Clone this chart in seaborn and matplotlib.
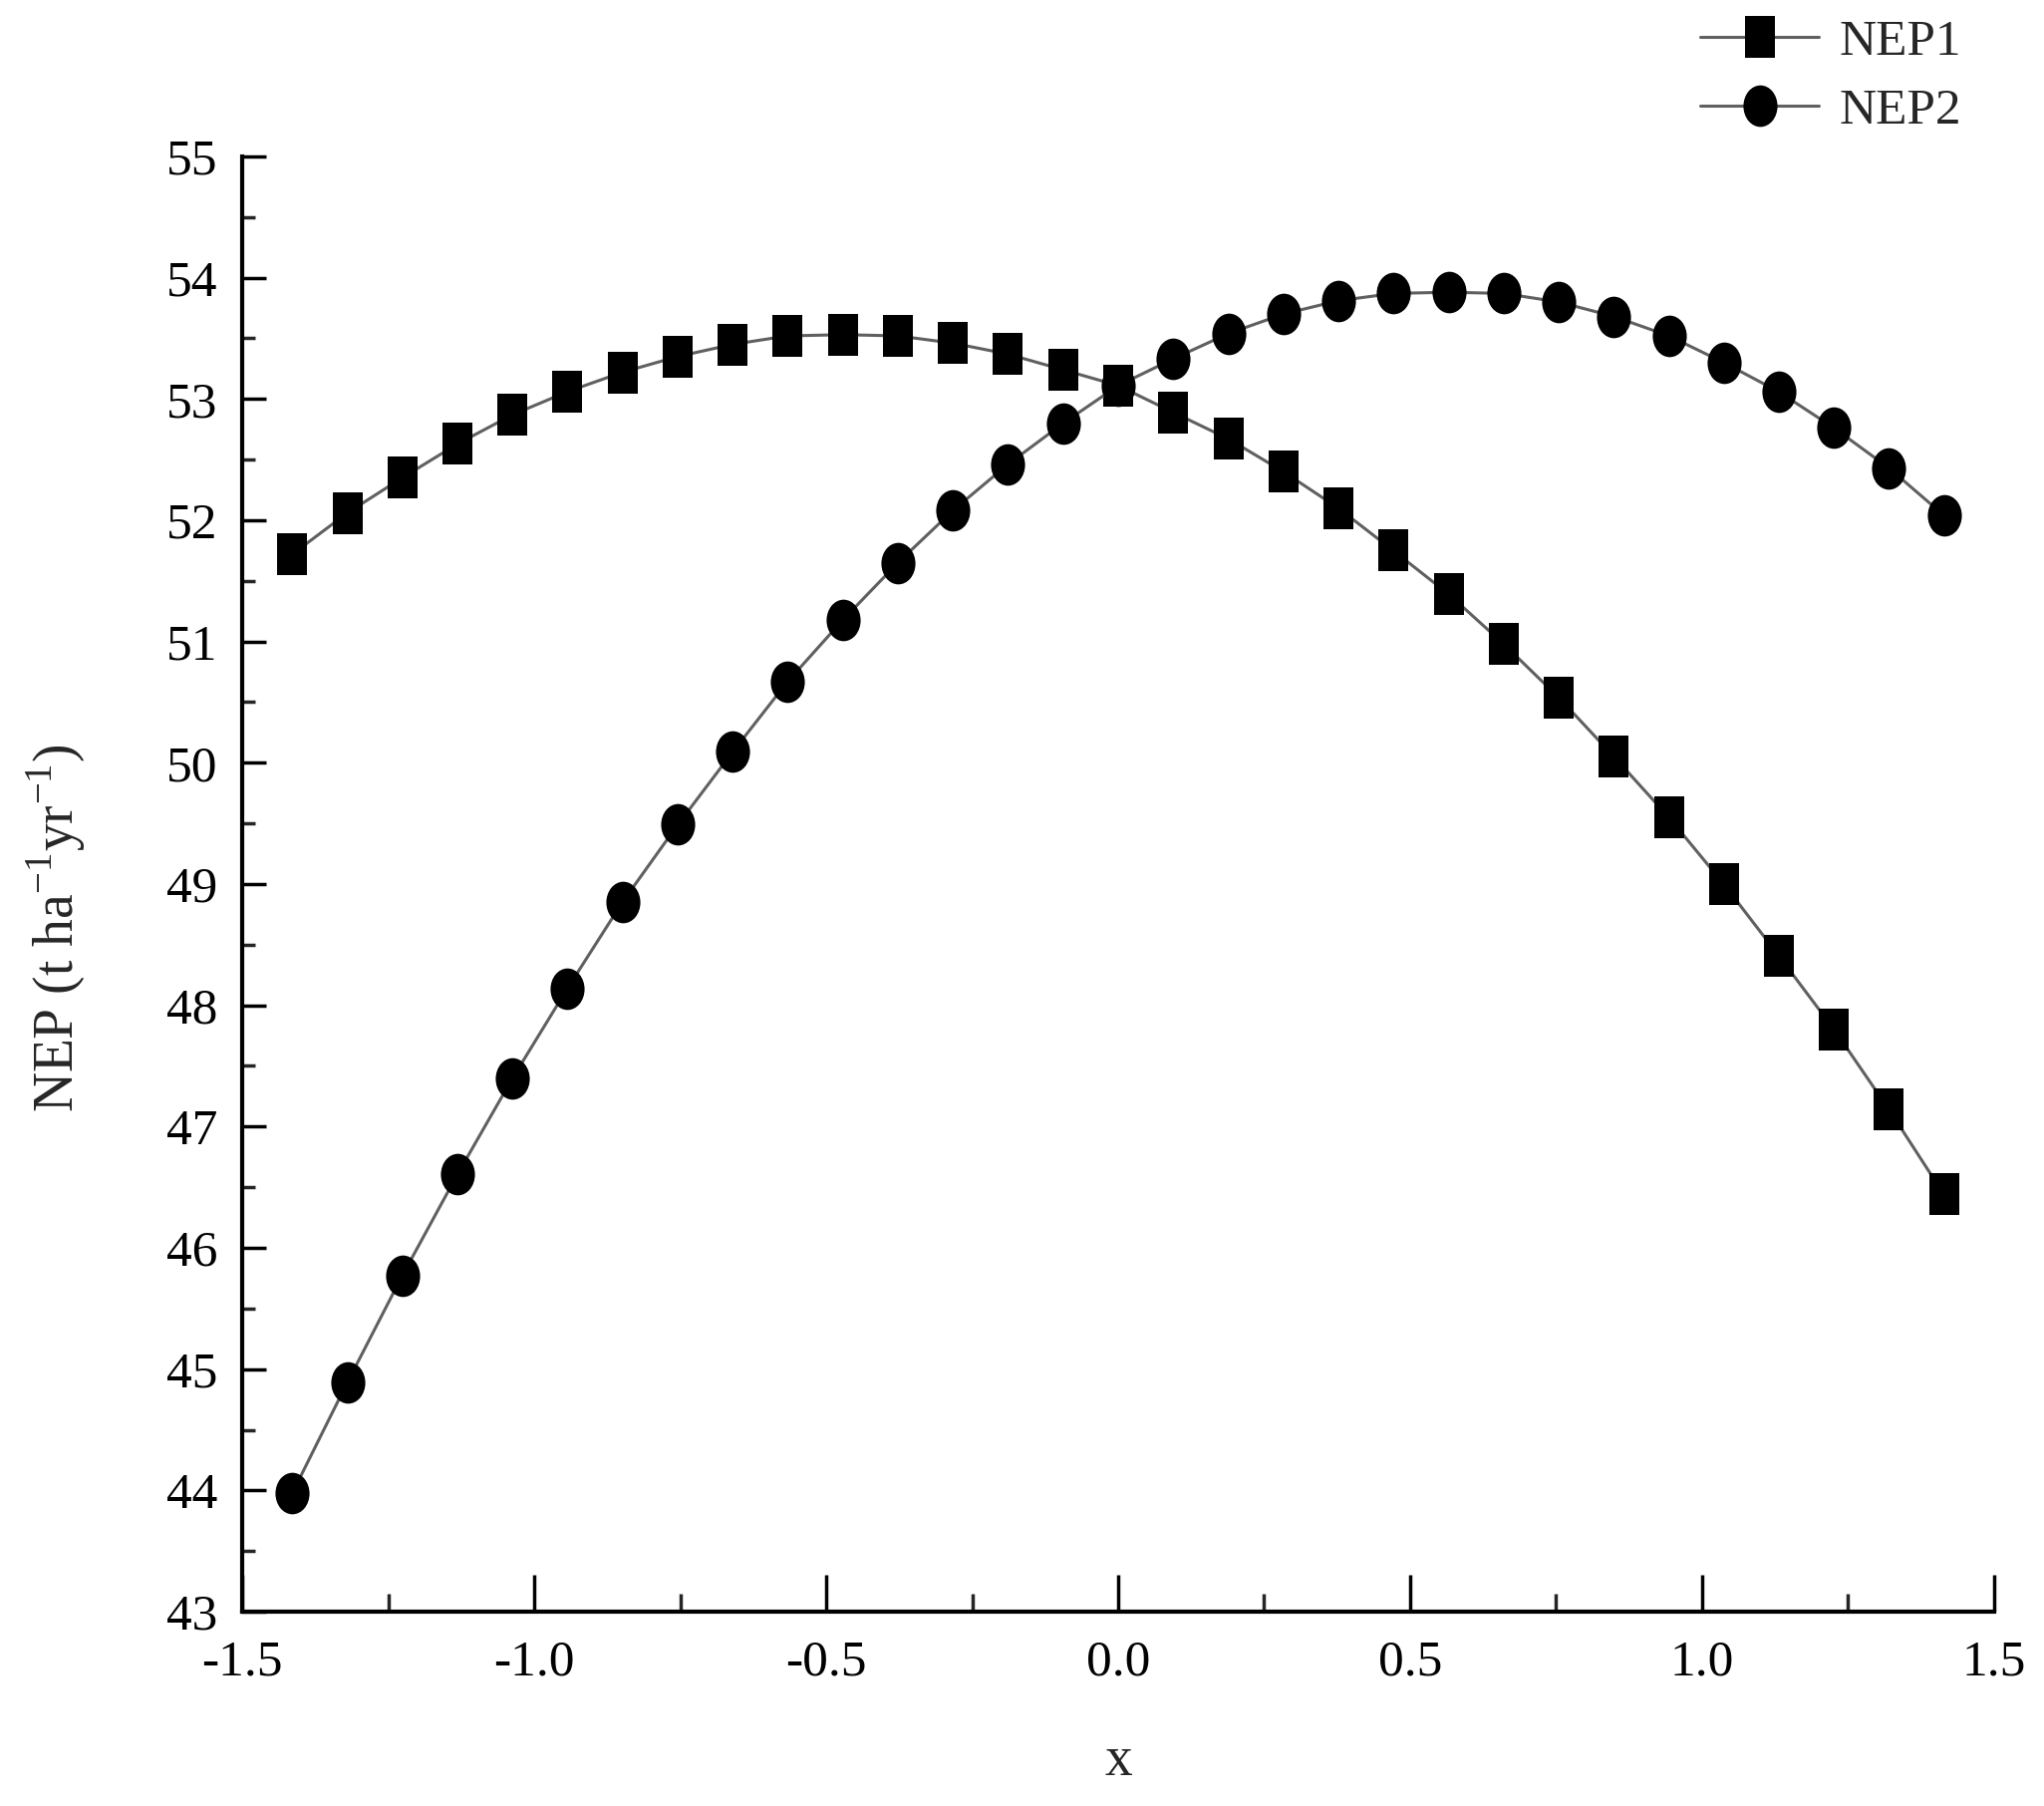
import numpy as np
import matplotlib
matplotlib.use("Agg")
import matplotlib.pyplot as plt
from matplotlib.path import Path
from matplotlib.lines import Line2D
from matplotlib.ticker import MultipleLocator
import seaborn as sns

# Data (31 design points from -1.414 to 1.414)
x_vals = [-1.414, -1.320, -1.226, -1.131, -1.037, -0.943, -0.849, -0.754,
          -0.660, -0.566, -0.471, -0.377, -0.283, -0.189, -0.094, 0.000,
          0.094, 0.189, 0.283, 0.377, 0.471, 0.566, 0.660, 0.754,
          0.849, 0.943, 1.037, 1.131, 1.226, 1.320, 1.414]

nep1 = [51.72, 52.06, 52.35, 52.63, 52.87, 53.06, 53.22, 53.35,
        53.45, 53.52, 53.53, 53.52, 53.46, 53.37, 53.24, 53.11,
        52.89, 52.67, 52.40, 52.10, 51.75, 51.39, 50.98, 50.54,
        50.05, 49.55, 49.00, 48.41, 47.80, 47.14, 46.44]

nep2 = [43.98, 44.89, 45.77, 46.61, 47.40, 48.14, 48.85, 49.49,
        50.09, 50.67, 51.18, 51.65, 52.08, 52.46, 52.80, 53.11,
        53.33, 53.54, 53.70, 53.81, 53.87, 53.88, 53.87, 53.80,
        53.68, 53.52, 53.30, 53.06, 52.76, 52.43, 52.04]

sns.set_theme(style="ticks")
plt.rcParams["font.family"] = ["Liberation Serif", "DejaVu Serif"]
plt.rcParams["mathtext.fontset"] = "custom"
plt.rcParams["mathtext.rm"] = "Liberation Serif"

# slightly tall markers, like the reference
sq = Path([(-0.37, -0.5), (0.37, -0.5), (0.37, 0.5), (-0.37, 0.5), (-0.37, -0.5)],
          [Path.MOVETO, Path.LINETO, Path.LINETO, Path.LINETO, Path.CLOSEPOLY])
circ = Path.unit_circle()
circ = Path(circ.vertices * np.array([0.82, 1.0]), circ.codes)

fig = plt.figure(figsize=(20.51, 18.12), dpi=100)
ax = fig.add_axes([0.1185, 0.1076, 0.8571, 0.8058])

line_col = "#606060"
common = dict(color=line_col, linewidth=2.2, markersize=30,
              markerfacecolor="black", markeredgecolor="black", markeredgewidth=0)

sns.lineplot(x=x_vals, y=nep1, ax=ax, marker=sq, **common)
sns.lineplot(x=x_vals, y=nep2, ax=ax, marker=circ, **common)

ax.set_xlim(-1.5, 1.5)
ax.set_ylim(43, 55)
ax.xaxis.set_major_locator(MultipleLocator(0.5))
ax.xaxis.set_minor_locator(MultipleLocator(0.25))
ax.yaxis.set_major_locator(MultipleLocator(1))
ax.yaxis.set_minor_locator(MultipleLocator(0.5))
ax.set_xticklabels([f"{v:.1f}" for v in ax.get_xticks()])

for s in ["top", "right"]:
    ax.spines[s].set_visible(False)
for s in ["left", "bottom"]:
    ax.spines[s].set_linewidth(3)
    ax.spines[s].set_color("black")

ax.tick_params(axis="x", which="major", direction="in", length=27, width=2.5,
               labelsize=37, pad=20, colors="black")
ax.tick_params(axis="x", which="minor", direction="in", length=13, width=2.5)
ax.tick_params(axis="y", which="major", direction="in", length=17, width=2.5,
               labelsize=37, pad=18, colors="black")
ax.tick_params(axis="y", which="minor", direction="in", length=9, width=2.5)

ax.set_xlabel("x", fontsize=40, labelpad=36)
ax.set_ylabel(r"NEP (t ha$^{\mathregular{-1}}$yr$^{\mathregular{-1}}$)", fontsize=40)
ax.yaxis.set_label_coords(-0.088, 0.47)

handles = [
    Line2D([], [], color=line_col, linewidth=2.2, marker=sq, markersize=30,
           markerfacecolor="black", markeredgewidth=0),
    Line2D([], [], color=line_col, linewidth=2.2, marker=circ, markersize=30,
           markerfacecolor="black", markeredgewidth=0),
]
ax.legend(handles, ["NEP1", "NEP2"], loc="upper right",
          bbox_to_anchor=(0.982, 1.015), bbox_transform=fig.transFigure,
          frameon=False, fontsize=37, handlelength=2.3, handletextpad=0.4,
          labelspacing=0.42)

fig.savefig("out.png", dpi=100, facecolor="white")
